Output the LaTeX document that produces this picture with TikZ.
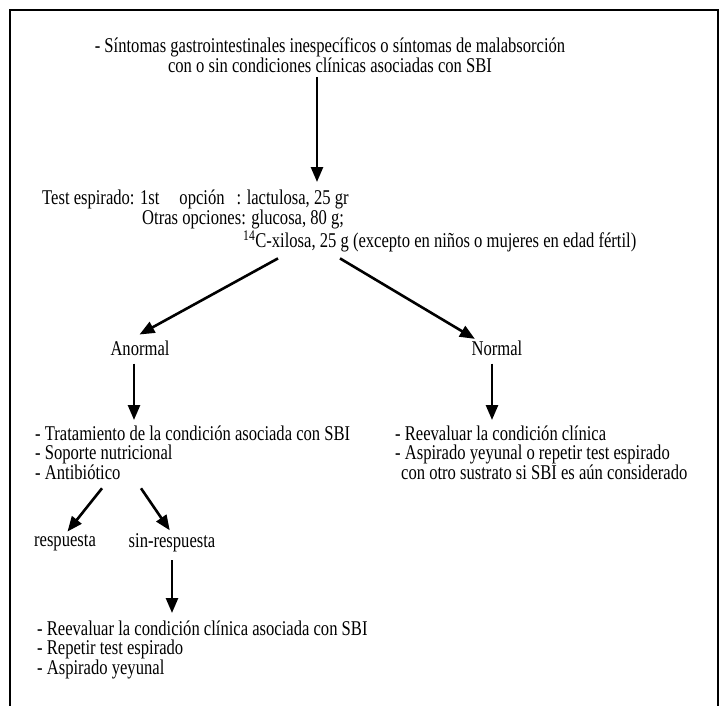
\documentclass[tikz,border=0pt]{standalone}
\usepackage{fontspec}
\setmainfont{Liberation Serif}[FakeStretch=0.79]
\usetikzlibrary{arrows.meta}

\begin{document}
\begin{tikzpicture}[x=1pt,y=-1pt,
        txt/.style={inner sep=0pt,align=left,font=\fontsize{21}{19}\selectfont},
        flecha/.style={line width=2.6pt,-{Triangle[length=15pt,width=12pt]}}]
        \useasboundingbox (0,0) rectangle (722,705);
        \draw[line width=1.8pt] (10,710) -- (10,10) -- (718,10) -- (718,710);
        \node[txt,align=center] (sintomas) at (330,55) {- Síntomas gastrointestinales inespecíficos o síntomas de malabsorción\\con o sin condiciones clínicas asociadas con SBI};
        \node[txt,anchor=north west] (test) at (42,190) {Test espirado: 1st\hspace{20pt}opción\hspace{12pt}: lactulosa, 25 gr\\\hspace*{100pt}Otras opciones: glucosa, 80 g;\\\hspace*{201pt}\textsuperscript{14}C-xilosa, 25 g (excepto en niños o mujeres en edad fértil)};
        \node[txt] (anormal) at (140,348) {Anormal};
        \node[txt] (normal) at (497,348) {Normal};
        \node[txt,anchor=north west] (izq) at (35,426) {- Tratamiento de la condición asociada con SBI\\- Soporte nutricional\\- Antibiótico};
        \node[txt,anchor=north west] (der) at (395,426) {- Reevaluar la condición clínica\\- Aspirado yeyunal o repetir test espirado\\\hspace*{6pt}con otro sustrato si SBI es aún considerado};
        \node[txt] (resp) at (65,543) {respuesta};
        \node[txt] (sinresp) at (172,543) {sin-respuesta};
        \node[txt,anchor=north west] (abajo) at (37,621) {- Reevaluar la condición clínica asociada con SBI\\- Repetir test espirado\\- Aspirado yeyunal};
        \draw[flecha,shorten >=8pt] ([xshift=-13pt,yshift=-4pt]sintomas.south) -- ([xshift=-13pt]sintomas.south |- test.north);
        \draw[flecha,shorten >=4pt] ([xshift=236pt,yshift=-6pt]test.south west) -- ([xshift=-4pt,yshift=4pt]anormal.north);
        \draw[flecha,shorten >=3pt] ([xshift=298pt,yshift=-6pt]test.south west) -- ([xshift=6pt]normal.north west);
        \draw[flecha,shorten >=6pt] ([xshift=-6pt,yshift=-8pt]anormal.south) -- ([xshift=-6pt]anormal.south |- izq.north);
        \draw[flecha,shorten >=6pt] ([xshift=-5pt,yshift=-8pt]normal.south) -- ([xshift=-5pt]normal.south |- der.north);
        \draw[flecha,shorten >=4pt] ([xshift=67pt,yshift=-8pt]izq.south west) -- (resp.north);
        \draw[flecha,shorten >=4pt] ([xshift=106pt,yshift=-8pt]izq.south west) -- (sinresp.north);
        \draw[flecha,shorten >=8pt] ([yshift=-8pt]sinresp.south) -- (sinresp.south |- abajo.north);
    \end{tikzpicture}
\end{document}
